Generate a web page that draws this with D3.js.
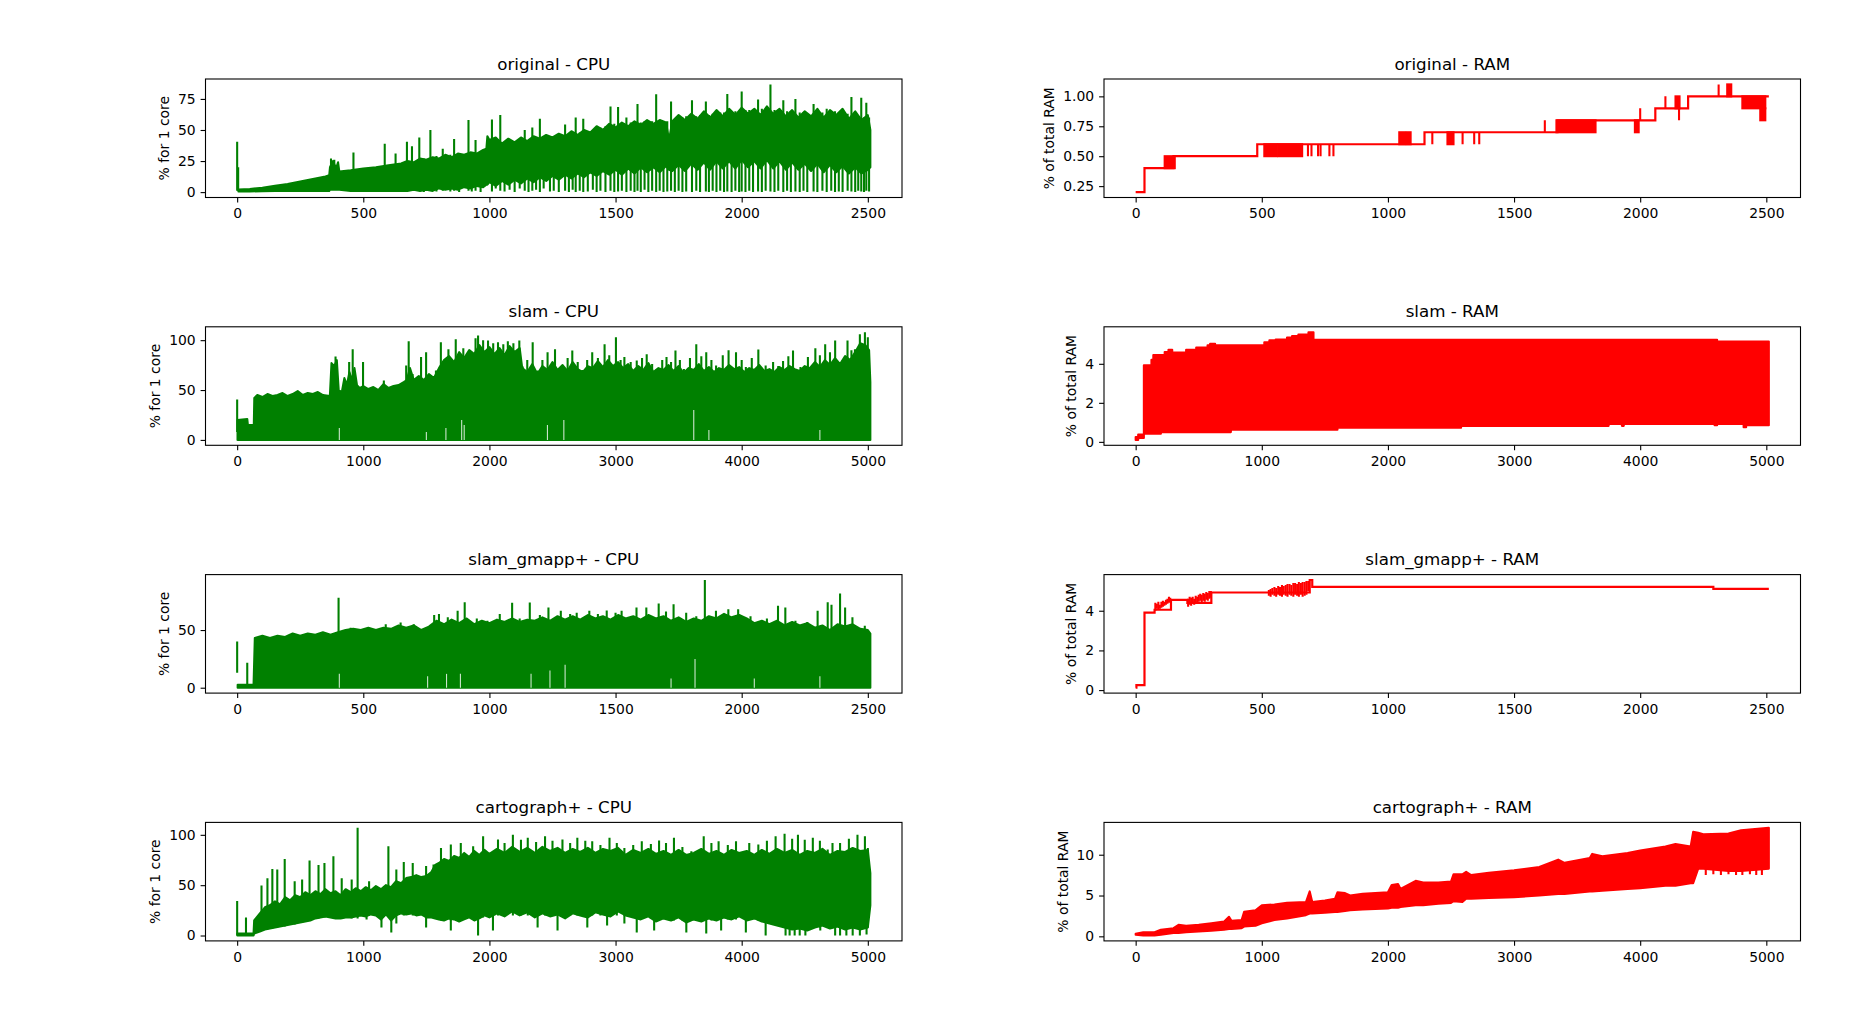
<!DOCTYPE html>
<html><head><meta charset="utf-8">
<script src="https://cdn.jsdelivr.net/npm/d3@7"></script>
<style>
body{margin:0;background:#fff}
text{font-family:"DejaVu Sans",sans-serif;fill:#000}
</style>
</head><body>
<svg id="c" width="1855" height="1022"></svg>
<script>
// ---------------- DATA ----------------
const titles = ["original - CPU","original - RAM","slam - CPU","slam - RAM","slam_gmapp+ - CPU","slam_gmapp+ - RAM","cartograph+ - CPU","cartograph+ - RAM"];
const yLabels = ["% for 1 core","% of total RAM"];
const xTicks2500 = [0,500,1000,1500,2000,2500];
const xTicks5000 = [0,1000,2000,3000,4000,5000];
const yTicksOrigCpu = [0,25,50,75];
const yTicksOrigRam = [0.25,0.5,0.75,1.0];
const yTicksSlamCpu = [0,50,100];
const yTicksSlamRam = [0,2,4];
const yTicksGmapCpu = [0,50];
const yTicksGmapRam = [0,2,4];
const yTicksCartCpu = [0,50,100];
const yTicksCartRam = [0,5,10];
const xMaxShort = 2510, xMaxLong = 5020;

// original - CPU : dense body [x, lo, hi] and vertical strokes [x, lo, hi]
const origCpuBand = [[5,0.5,2],[50,0.5,2.5],[100,0.8,3.5],[150,1,5],[200,1,6.5],[250,1,8.5],[300,1,10.5],[350,1,12.5],[365,1,13.5],[368,2,20],[380,2,25],[392,2,19],[400,2,24],[405,2,16.5],[450,1,17.5],[500,1,19],[550,1,20],[600,1,21.5],[650,1,23],[675,1,25],[700,2,24],[725,1,27],[750,2,26],[775,1,28],[800,3,27],[825,2,30],[850,3,28],[875,2,31],[900,4,30],[925,3,32],[950,5,31],[975,4,34],[988,6,35],[992,6,45],[1000,8,42],[1025,5,44],[1050,9,39],[1075,6,43],[1100,10,40],[1125,7,44],[1150,11,41],[1175,8,45],[1200,12,43],[1225,9,46],[1250,13,44],[1275,10,47],[1300,14,45],[1325,11,49],[1350,15,46],[1375,12,50],[1400,16,48],[1425,13,53],[1450,17,50],[1475,14,55],[1500,18,52],[1525,14,56],[1550,19,53],[1575,15,57],[1600,20,54],[1625,16,58],[1650,20,55],[1675,16,58],[1700,21,56],[1712,18,42],[1725,17,57],[1750,22,62],[1775,17,58],[1800,23,63],[1825,18,59],[1850,24,65],[1875,18,60],[1900,25,66],[1925,19,61],[1950,25,67],[1975,19,62],[2000,26,68],[2025,20,63],[2050,25,67],[2075,19,62],[2100,26,69],[2125,19,63],[2150,25,67],[2175,18,61],[2200,24,66],[2225,18,60],[2250,23,65],[2275,17,61],[2300,23,67],[2325,16,60],[2350,22,66],[2375,16,62],[2400,21,67],[2425,15,59],[2450,20,65],[2475,15,58],[2500,18,62],[2510,20,50]];
const origCpuStrokes = [[0,1,40.5],[4,1,20],[372,2,27],[385,2,26],[461,2,31.8],[585,2,39],[628,2,31],[660,0.5,24],[673,1,40.6],[693,1,37],[722,1,44],[740,0,27],[766,1,50],[790,0.5,29],[815,1,35],[845,0.5,30],[860,1,42.7],[880,0,31],[917,1,58],[930,0.5,32],[945,1,42],[965,0,33],[1010,0.5,58.4],[1025,3,44],[1043,1,62],[1060,0.5,40],[1080,2,41],[1100,0,41],[1120,3,42],[1140,1,50],[1155,0,42],[1170,1,52],[1185,2,43],[1200,0,59],[1215,3,44],[1240,0.5,44],[1255,1,45],[1275,0,45],[1300,1,54.4],[1315,0,46],[1330,2,47],[1342,0,60],[1358,1,48],[1372,0,59],[1390,0.5,49],[1410,2,50],[1425,0,51],[1440,1,52],[1460,0,53],[1480,1,69],[1495,0,55],[1510,0.5,68.6],[1525,1,55],[1543,0,60],[1560,1,56],[1575,0,56],[1587,1,71],[1600,0,56],[1615,2,57],[1630,0,57],[1645,1,57],[1661,0,78.7],[1675,1,57],[1690,0,57],[1705,0.5,57],[1720,1,73],[1735,0,58],[1750,1,59],[1765,0,60],[1780,0.5,61],[1803,0,74],[1820,1,61],[1835,0,62],[1858,0.5,73],[1870,0,62],[1885,1,63],[1900,0,63],[1915,1,64],[1930,0,64],[1943,0.5,79],[1960,0,65],[1975,1,65],[1990,0,65],[2000,0.5,81],[2015,0,66],[2030,1,66],[2045,0,66],[2065,0.5,74.5],[2080,0,67],[2095,1,67],[2114,0.5,86.7],[2130,0,66],[2145,1,66],[2165,0,74],[2180,1,65],[2195,0,65],[2213,0.5,75],[2230,0,64],[2245,1,64],[2260,0,63],[2285,0.5,71],[2300,0,64],[2320,1,64],[2337,0,67],[2355,1,65],[2370,0,65],[2385,0.5,64],[2400,0,64],[2420,1,63],[2435,0.5,76.6],[2450,0,62],[2462,1,61],[2474,0.5,76],[2485,0,60],[2494,1,72],[2505,0.5,60]];

// original - RAM : step line [x, v], dense toggling blocks [x0, x1, lo, hi], single toggles [x, lo, hi]
const origRamSteps = [[0,0.2],[35,0.4],[150,0.5],[482,0.6],[1145,0.7],[1672,0.8],[2060,0.9],[2190,1.0],[2510,1.0]];
const origRamBlocks = [[115,155,0.4,0.5],[510,560,0.5,0.6],[566,660,0.5,0.6],[1045,1068,0.6,0.7],[1075,1090,0.6,0.7],[1236,1260,0.6,0.7],[1668,1823,0.7,0.8],[1979,1994,0.7,0.8],[2140,2156,0.9,1.0],[2345,2361,1.0,1.1],[2405,2496,0.9,1.0],[2476,2496,0.8,0.9]];
const origRamStrokes = [[683,0.5,0.6],[697,0.5,0.6],[723,0.5,0.6],[733,0.5,0.6],[768,0.5,0.6],[784,0.5,0.6],[1176,0.6,0.7],[1296,0.6,0.7],[1342,0.6,0.7],[1362,0.6,0.7],[1622,0.7,0.8],[2000,0.8,0.9],[2100,0.9,1.0],[2154,0.8,0.9],[2311,1.0,1.1]];

// slam - CPU
const slamCpuBand = [[3,0,20],[80,0,21],[85,0,15],[132,0,15],[136,0,42],[160,0,45],[200,0,43],[240,0,46],[280,0,44],[320,0,45],[360,0,47],[400,0,44],[440,0,46],[480,0,49],[520,0,45],[560,0,47],[600,0,46],[640,0,48],[680,0,45],[735,0,44],[748,0,77],[770,0,74],[790,0,80],[805,0,50],[830,0,48],[850,0,62],[870,0,55],[890,0,68],[910,0,60],[930,0,72],[950,0,55],[970,0,52],[1000,0,54],[1040,0,51],[1080,0,53],[1120,0,50],[1160,0,56],[1200,0,52],[1240,0,54],[1280,0,55],[1320,0,58],[1345,0,60],[1370,0,72],[1400,0,60],[1440,0,64],[1480,0,60],[1520,0,66],[1560,0,62],[1600,0,72],[1640,0,80],[1680,0,84],[1720,0,78],[1760,0,88],[1800,0,82],[1840,0,90],[1880,0,86],[1920,0,95],[1960,0,88],[2000,0,93],[2040,0,86],[2080,0,92],[2120,0,85],[2160,0,94],[2200,0,88],[2240,0,92],[2260,0,72],[2300,0,68],[2340,0,76],[2380,0,66],[2420,0,74],[2460,0,70],[2500,0,78],[2540,0,70],[2580,0,75],[2620,0,69],[2660,0,78],[2700,0,71],[2740,0,68],[2780,0,74],[2820,0,72],[2860,0,79],[2900,0,73],[2940,0,80],[2980,0,74],[3020,0,78],[3060,0,72],[3100,0,76],[3140,0,69],[3180,0,74],[3220,0,70],[3260,0,77],[3300,0,68],[3340,0,72],[3380,0,70],[3420,0,75],[3460,0,69],[3500,0,74],[3540,0,67],[3580,0,72],[3620,0,70],[3660,0,76],[3700,0,69],[3740,0,73],[3780,0,68],[3820,0,72],[3860,0,70],[3900,0,75],[3940,0,71],[3980,0,73],[4020,0,68],[4060,0,72],[4100,0,70],[4140,0,75],[4180,0,69],[4220,0,71],[4260,0,68],[4300,0,73],[4340,0,70],[4380,0,74],[4420,0,71],[4460,0,69],[4500,0,74],[4540,0,72],[4580,0,78],[4620,0,73],[4660,0,80],[4700,0,75],[4740,0,82],[4780,0,76],[4820,0,84],[4860,0,80],[4900,0,88],[4940,0,97],[4980,0,95],[5010,0,90],[5020,0,58]];
const slamCpuStrokes = [[0,8,40.5],[780,0,83.6],[888,0,78],[916,0,91],[998,0,78],[1163,0,59.5],[1340,0,74.6],[1360,0,99],[1391,0,66],[1458,0,83],[1498,0,88],[1576,0,69.6],[1615,0,98],[1675,0,91],[1733,0,101],[1793,0,92],[1851,0,84.6],[1890,0,102],[1910,0,104.7],[1950,0,100],[1989,0,99.7],[2030,0,97],[2068,0,98],[2110,0,96],[2146,0,99],[2190,0,97],[2237,0,99.7],[2264,0,73.6],[2300,0,80],[2343,0,98],[2382,0,69.6],[2420,0,80],[2461,0,88],[2520,0,91],[2579,0,73],[2620,0,82],[2657,0,89.6],[2700,0,78],[2736,0,70],[2775,0,80],[2815,0,88],[2860,0,82],[2913,0,96],[2950,0,85],[3003,0,103],[3040,0,80],[3070,0,83],[3120,0,78],[3168,0,79.6],[3210,0,82],[3247,0,86],[3290,0,76],[3326,0,71],[3370,0,80],[3404,0,83],[3440,0,78],[3475,0,89.6],[3510,0,80],[3542,0,71],[3590,0,82],[3640,0,96],[3680,0,84],[3719,0,88],[3760,0,80],[3797,0,74.6],[3850,0,85],[3896,0,90],[3955,0,88],[4000,0,80],[4033,0,73],[4080,0,82],[4132,0,90.6],[4190,0,74.6],[4249,0,78],[4290,0,74],[4328,0,79],[4370,0,84],[4407,0,89.6],[4466,0,73],[4525,0,83],[4584,0,92],[4620,0,85],[4662,0,96],[4700,0,88],[4741,0,99.7],[4800,0,79.6],[4839,0,99.7],[4870,0,90],[4898,0,91],[4937,0,106],[4977,0,108],[5000,0,103]];
const slamCpuGaps = [[810,0,12],[1500,0,8],[1655,0,12],[1780,0,20],[1800,0,15],[2460,0,15],[2590,0,20],[3620,0,30],[3740,0,10],[4620,0,10]];

// slam - RAM : step band [x, lo, hi]
const slamRamBand = [[0,0.1,0.25],[20,0.2,0.38],[65,0.42,3.92],[125,0.42,4.2],[140,0.42,4.45],[200,0.5,4.45],[230,0.5,4.6],[260,0.5,4.72],[290,0.5,4.58],[400,0.5,4.72],[480,0.5,4.83],[570,0.5,4.95],[590,0.5,5.02],[630,0.5,4.95],[755,0.62,4.95],[1020,0.62,5.1],[1060,0.62,5.2],[1110,0.62,5.24],[1200,0.62,5.35],[1240,0.62,5.42],[1290,0.62,5.5],[1370,0.62,5.62],[1410,0.62,5.23],[1600,0.72,5.23],[2580,0.82,5.23],[3750,0.92,5.23],[3855,0.82,5.23],[3870,0.92,5.23],[4590,0.85,5.23],[4610,0.92,5.14],[4820,0.75,5.14],[4840,0.85,5.14],[5020,0.85,5.14]];

// slam_gmapp+ - CPU
const gmapCpuBand = [[2,0,2.5],[65,0,2.5],[70,0,43],[100,0,45],[130,0,43],[160,0,45],[190,0,44],[220,0,47],[250,0,45],[280,0,47],[310,0,46],[340,0,48],[370,0,46],[400,0,48],[430,0,50],[460,0,51],[490,0,50],[520,0,52],[550,0,50],[580,0,52],[610,0,51],[640,0,54],[670,0,52],[700,0,54],[730,0,50],[760,0,53],[790,0,58],[820,0,55],[850,0,59],[880,0,56],[910,0,60],[940,0,55],[970,0,58],[1000,0,56],[1030,0,59],[1060,0,57],[1090,0,60],[1120,0,57],[1150,0,59],[1180,0,58],[1210,0,61],[1240,0,58],[1270,0,62],[1300,0,59],[1330,0,62],[1360,0,59],[1390,0,63],[1420,0,60],[1450,0,62],[1480,0,59],[1510,0,63],[1540,0,60],[1570,0,62],[1600,0,59],[1630,0,63],[1660,0,60],[1690,0,62],[1720,0,58],[1750,0,61],[1780,0,57],[1810,0,60],[1840,0,58],[1870,0,62],[1900,0,60],[1930,0,64],[1960,0,61],[1990,0,63],[2020,0,60],[2050,0,56],[2080,0,58],[2110,0,55],[2140,0,58],[2170,0,54],[2200,0,57],[2230,0,54],[2260,0,56],[2290,0,52],[2320,0,54],[2350,0,50],[2380,0,55],[2410,0,53],[2440,0,55],[2470,0,51],[2500,0,50],[2510,0,47]];
const gmapCpuStrokes = [[0,13,40],[40,0,21.6],[402,0,78],[450,0,52],[520,0,52],[589,0,55],[648,0,56.6],[700,0,55],[781,0,63],[800,0,64],[835,0,61],[874,0,66.7],[902,0,74],[950,0,60],[992,0,58],[1041,0,64],[1090,0,73.6],[1120,0,60],[1160,0,73.9],[1200,0,63],[1234,0,69.5],[1283,0,66.7],[1320,0,64],[1346,0,65],[1396,0,66.7],[1430,0,64],[1465,0,67],[1500,0,65],[1524,0,66.7],[1583,0,69.5],[1622,0,69.5],[1671,0,73],[1700,0,66],[1730,0,72.4],[1780,0,65],[1820,0,62],[1854,0,93.4],[1898,0,66.7],[1947,0,68],[1986,0,68],[2035,0,62],[2100,0,60],[2144,0,71],[2173,0,69.5],[2213,0,58],[2260,0,57],[2301,0,66.7],[2341,0,74],[2356,0,72],[2390,0,81.6],[2410,0,69.5],[2439,0,61],[2488,0,53.7]];
const gmapCpuGaps = [[405,0,12],[755,0,10],[830,0,12],[885,0,12],[1165,0,12],[1240,0,15],[1300,0,20],[1720,0,8],[1815,0,25],[2050,0,8],[2310,0,10]];

// slam_gmapp+ - RAM
const gmapRamSteps = [[0,0.12],[3,0.25],[35,3.9],[75,4.05],[140,4.55],[205,4.4],[300,4.92],[525,4.92],[690,5.55],[700,5.2],[2290,5.1],[2510,5.1]];
const gmapRamStrokes = [[78,4.0,4.4],[84,4.1,4.35],[90,4.05,4.45],[96,4.1,4.3],[102,4.15,4.45],[108,4.2,4.5],[114,4.25,4.45],[120,4.3,4.55],[126,4.35,4.6],[132,4.4,4.7],[137,4.45,4.65],[208,4.2,4.6],[214,4.3,4.7],[220,4.25,4.65],[226,4.35,4.7],[232,4.3,4.6],[238,4.4,4.75],[244,4.35,4.7],[250,4.45,4.8],[256,4.5,4.85],[262,4.4,4.8],[268,4.5,4.9],[274,4.45,4.85],[280,4.55,4.95],[286,4.5,4.9],[292,4.6,5.0],[298,4.65,5.0],[528,4.75,5.05],[535,4.7,5.1],[542,4.8,5.15],[550,4.75,5.2],[557,4.7,5.15],[565,4.8,5.25],[572,4.75,5.2],[580,4.7,5.3],[587,4.8,5.25],[595,4.75,5.3],[602,4.7,5.35],[610,4.8,5.35],[617,4.75,5.3],[625,4.7,5.4],[632,4.8,5.4],[640,4.75,5.35],[647,4.7,5.45],[655,4.8,5.4],[662,4.7,5.45],[670,4.75,5.45],[677,4.8,5.5],[684,5.0,5.5]];

// cartograph+ - CPU
const cartCpuBand = [[2,0,2],[130,0,2],[135,2,15],[180,4,22],[220,6,28],[260,7,30],[300,8,34],[340,9,31],[380,10,38],[420,11,35],[460,12,40],[500,13,38],[540,14,43],[580,15,40],[620,17,44],[660,18,41],[700,19,46],[740,18,42],[780,17,44],[820,17,40],[860,18,46],[900,18,43],[940,19,47],[980,20,44],[1020,19,48],[1060,21,45],[1100,20,49],[1140,16,46],[1180,21,50],[1220,15,48],[1260,20,54],[1300,22,52],[1340,21,57],[1380,22,58],[1420,20,60],[1460,21,58],[1500,18,59],[1540,18,63],[1570,17,70],[1600,16,72],[1640,15,76],[1680,17,74],[1720,16,79],[1760,14,77],[1800,16,82],[1840,18,78],[1880,15,84],[1920,17,80],[1960,20,85],[2000,18,81],[2060,22,86],[2120,19,82],[2180,24,88],[2240,20,83],[2300,23,87],[2360,18,82],[2420,22,88],[2480,19,84],[2540,21,87],[2600,17,82],[2660,22,86],[2720,20,83],[2780,18,87],[2840,23,82],[2900,21,86],[2960,19,84],[3020,24,87],[3080,20,80],[3140,18,85],[3200,16,82],[3260,19,86],[3320,14,81],[3380,17,84],[3440,15,80],[3500,18,85],[3560,13,80],[3620,16,82],[3680,14,86],[3740,17,81],[3800,15,84],[3860,18,80],[3920,16,85],[3980,19,82],[4040,15,84],[4100,17,80],[4160,14,85],[4220,12,81],[4280,10,86],[4340,8,82],[4400,6,85],[4460,7,80],[4520,5,84],[4580,8,82],[4640,10,86],[4700,7,80],[4760,9,84],[4820,6,83],[4880,8,87],[4940,6,84],[5000,8,85],[5020,30,62]];
const cartCpuStrokes = [[0,0,34.4],[70,0,18],[193,5,49.7],[240,6,57],[279,7,66],[318,8,65.5],[377,9,76],[456,11,54],[515,13,55.6],[574,15,74.5],[645,17,70],[692,18,72],[763,18,78.8],[829,17,57],[908,17,55.6],[955,17,107],[1046,20,54],[1199,20,88.7],[1262,20,65.6],[1321,20,73],[1392,20,72],[1498,18,69],[1557,18,70.5],[1616,15,87],[1694,15,90.4],[1773,15,92],[1871,17,88.7],[1950,18,98.7],[2068,20,95.4],[2120,20,92],[2186,20,100],[2250,20,95],[2304,20,97],[2370,20,93],[2441,20,98.7],[2500,20,94],[2579,20,95.4],[2640,20,92],[2697,20,97],[2760,20,94],[2815,20,93.7],[2880,20,90],[2952,20,97],[3010,20,92],[3070,20,87],[3140,19,90],[3208,18,93.7],[3280,17,91],[3345,16,94.4],[3400,16,92],[3463,15,97],[3530,15,88],[3601,15,83.8],[3699,15,98.7],[3760,15,92],[3817,16,93.7],[3890,16,90],[3955,16,93.7],[4060,16,92],[4132,15,90.4],[4200,14,94],[4269,12,98.7],[4340,10,101],[4400,9,96],[4446,8,100],[4500,8,95],[4564,8,97],[4620,8,94],[4682,9,85.4],[4720,9,92],[4780,10,92],[4850,8,96],[4918,8,100],[4977,8,98.7],[5000,8,87]];
const cartCpuDips = [[1026,16,40],[1144,8,45],[1222,3,45],[1262,12,50],[1498,8,55],[1694,5,70],[1910,0,75],[2028,5,75],[2382,8,75],[2540,5,75],[2776,8,75],[2933,10,75],[3070,12,75],[3168,3,75],[3306,5,75],[3561,3,75],[3719,2,75],[3837,5,75],[4033,3,75],[4190,0,75],[4348,0,75],[4380,0,70],[4420,0,70],[4460,0,75],[4505,0,75],[4623,5,75],[4741,0,75],[4780,0,70],[4830,0,75],[4880,0,70],[4937,0,75],[4990,1,70]];

// cartograph+ - RAM
const cartRamBand = [[0,0.2,0.3],[60,0.1,0.5],[150,0.1,0.5],[200,0.2,0.8],[300,0.4,1.0],[340,0.4,1.4],[400,0.5,1.3],[500,0.6,1.4],[600,0.7,1.6],[700,0.8,1.8],[740,0.9,2.4],[760,0.9,1.9],[840,1.0,2.0],[860,1.2,3.0],[950,1.3,3.2],[1000,1.6,3.8],[1100,2.0,3.9],[1200,2.2,4.1],[1350,2.6,4.2],[1380,2.8,5.5],[1400,2.8,4.2],[1500,2.9,4.4],[1580,3.0,4.6],[1600,3.0,5.4],[1660,3.1,5.3],[1700,3.2,5.0],[1800,3.3,5.2],[2000,3.4,5.4],[2030,3.5,6.3],[2080,3.5,6.4],[2100,3.6,5.8],[2220,3.8,6.8],[2280,3.8,6.6],[2400,4.0,6.6],[2500,4.1,6.7],[2520,4.3,7.6],[2590,4.2,7.6],[2620,4.6,7.9],[2660,4.6,7.5],[2800,4.7,7.8],[3000,4.8,8.1],[3200,5.0,8.5],[3350,5.2,9.4],[3400,5.2,9.0],[3600,5.5,9.6],[3620,5.5,10.1],[3700,5.6,9.8],[3900,5.8,10.2],[4000,5.9,10.5],[4200,6.2,11.0],[4280,6.2,11.3],[4400,6.5,11.0],[4420,6.5,12.8],[4460,8.3,12.7],[4500,8.3,12.5],[4700,8.0,12.6],[4800,8.0,13.0],[5020,8.3,13.3]];
const cartRamStrokes = [[2570,4.3,7.5],[2590,4.4,7.5],[4520,7.5,12.5],[4580,7.6,12.4],[4640,7.5,12.5],[4700,7.6,12.6],[4760,7.5,12.8],[4810,7.5,13],[4870,7.6,13],[4920,7.5,13.1],[4965,7.5,13.2]];

// ---------------- LAYOUT ----------------
const W = 696.5, H = 118.5;
const colLeft = [205.5, 1104];
const rowTop = [79, 326.8, 574.6, 822.4];
const GREEN = "#008000", RED = "#ff0000";
const FS = 13.9, TFS = 16.7;

const panels = [
  {title:titles[0], ylab:yLabels[0], col:0,row:0, color:GREEN, xmax:xMaxShort, xt:xTicks2500, yt:yTicksOrigCpu, band:origCpuBand, strokes:origCpuStrokes},
  {title:titles[1], ylab:yLabels[1], col:1,row:0, color:RED, xmax:xMaxShort, xt:xTicks2500, yt:yTicksOrigRam, fmt:d3.format(".2f"), steps:origRamSteps, blocks:origRamBlocks, strokes:origRamStrokes},
  {title:titles[2], ylab:yLabels[0], col:0,row:1, color:GREEN, xmax:xMaxLong, xt:xTicks5000, yt:yTicksSlamCpu, band:slamCpuBand, strokes:slamCpuStrokes, gaps:slamCpuGaps},
  {title:titles[3], ylab:yLabels[1], col:1,row:1, color:RED, xmax:xMaxLong, xt:xTicks5000, yt:yTicksSlamRam, band:slamRamBand, stepBand:true},
  {title:titles[4], ylab:yLabels[0], col:0,row:2, color:GREEN, xmax:xMaxShort, xt:xTicks2500, yt:yTicksGmapCpu, band:gmapCpuBand, strokes:gmapCpuStrokes, gaps:gmapCpuGaps},
  {title:titles[5], ylab:yLabels[1], col:1,row:2, color:RED, xmax:xMaxShort, xt:xTicks2500, yt:yTicksGmapRam, steps:gmapRamSteps, strokes:gmapRamStrokes},
  {title:titles[6], ylab:yLabels[0], col:0,row:3, color:GREEN, xmax:xMaxLong, xt:xTicks5000, yt:yTicksCartCpu, band:cartCpuBand, strokes:cartCpuStrokes.concat(cartCpuDips)},
  {title:titles[7], ylab:yLabels[1], col:1,row:3, color:RED, xmax:xMaxLong, xt:xTicks5000, yt:yTicksCartRam, band:cartRamBand, strokes:cartRamStrokes}
];

const svg = d3.select("#c");

panels.forEach((p, i) => {
  const g = svg.append("g").attr("transform", `translate(${colLeft[p.col]},${rowTop[p.row]})`);
  const vals = [];
  (p.band||[]).forEach(d => vals.push(d[1], d[2]));
  (p.steps||[]).forEach(d => vals.push(d[1]));
  (p.strokes||[]).forEach(d => vals.push(d[1], d[2]));
  (p.blocks||[]).forEach(d => vals.push(d[2], d[3]));
  const lo = d3.min(vals), hi = d3.max(vals), m = (hi - lo) * 0.05;
  const y = d3.scaleLinear().domain([lo - m, hi + m]).range([H, 0]);
  const x = d3.scaleLinear().domain([-p.xmax * 0.05, p.xmax * 1.05]).range([0, W]);

  const cid = "clip" + i;
  g.append("clipPath").attr("id", cid).append("rect").attr("width", W).attr("height", H);
  const plot = g.append("g").attr("clip-path", `url(#${cid})`);

  if (p.band) {
    const area = d3.area().x(d => x(d[0])).y0(d => y(d[1])).y1(d => y(d[2]))
      .curve(p.stepBand ? d3.curveStepAfter : d3.curveLinear);
    plot.append("path").datum(p.band).attr("d", area)
      .attr("fill", p.color).attr("stroke", p.color).attr("stroke-width", 2.08).attr("stroke-linejoin", "round");
  }
  if (p.blocks) {
    plot.selectAll(null).data(p.blocks).enter().append("rect")
      .attr("x", d => x(d[0])).attr("width", d => x(d[1]) - x(d[0]))
      .attr("y", d => y(d[3])).attr("height", d => y(d[2]) - y(d[3]))
      .attr("fill", p.color).attr("stroke", p.color).attr("stroke-width", 2.08);
  }
  if (p.steps) {
    const line = d3.line().x(d => x(d[0])).y(d => y(d[1])).curve(d3.curveStepAfter);
    plot.append("path").datum(p.steps).attr("d", line)
      .attr("fill", "none").attr("stroke", p.color).attr("stroke-width", 2.2);
  }
  if (p.strokes) {
    plot.selectAll(null).data(p.strokes).enter().append("line")
      .attr("x1", d => x(d[0])).attr("x2", d => x(d[0]))
      .attr("y1", d => y(d[1])).attr("y2", d => y(d[2]))
      .attr("stroke", p.color).attr("stroke-width", 2.08);
  }
  if (p.gaps) {
    plot.selectAll(null).data(p.gaps).enter().append("line")
      .attr("x1", d => x(d[0])).attr("x2", d => x(d[0]))
      .attr("y1", d => y(d[1])).attr("y2", d => y(d[2]))
      .attr("stroke", "#fff").attr("stroke-width", 1.1).attr("opacity", 0.8);
  }

  // axes
  const xa = g.append("g").attr("transform", `translate(0,${H})`)
    .call(d3.axisBottom(x).tickValues(p.xt).tickSize(4.9).tickPadding(6).tickFormat(d3.format("d")));
  const ya = g.append("g")
    .call(d3.axisLeft(y).tickValues(p.yt).tickSize(4.9).tickPadding(4.9).tickFormat(p.fmt || d3.format("d")));
  [xa, ya].forEach(a => {
    a.select(".domain").remove();
    a.selectAll("line").attr("stroke", "#000").attr("stroke-width", 1.1);
    a.selectAll("text").attr("font-size", FS).attr("font-family", "DejaVu Sans").attr("fill", "#000");
  });
  g.append("rect").attr("width", W).attr("height", H).attr("fill", "none")
    .attr("stroke", "#000").attr("stroke-width", 1.1);

  // title
  g.append("text").attr("x", W / 2).attr("y", -9.5).attr("text-anchor", "middle")
    .attr("font-size", TFS).text(p.title);

  // y label positioned from tick-label widths
  let maxW = 0;
  ya.selectAll("text").each(function(){ maxW = Math.max(maxW, this.getBBox().width); });
  const lx = -4.9 - 4.9 - maxW - 5.6 - 3.3;
  g.append("text").attr("transform", `translate(${lx},${H / 2}) rotate(-90)`)
    .attr("text-anchor", "middle").attr("font-size", FS).text(p.ylab);
});
</script>
</body></html>
